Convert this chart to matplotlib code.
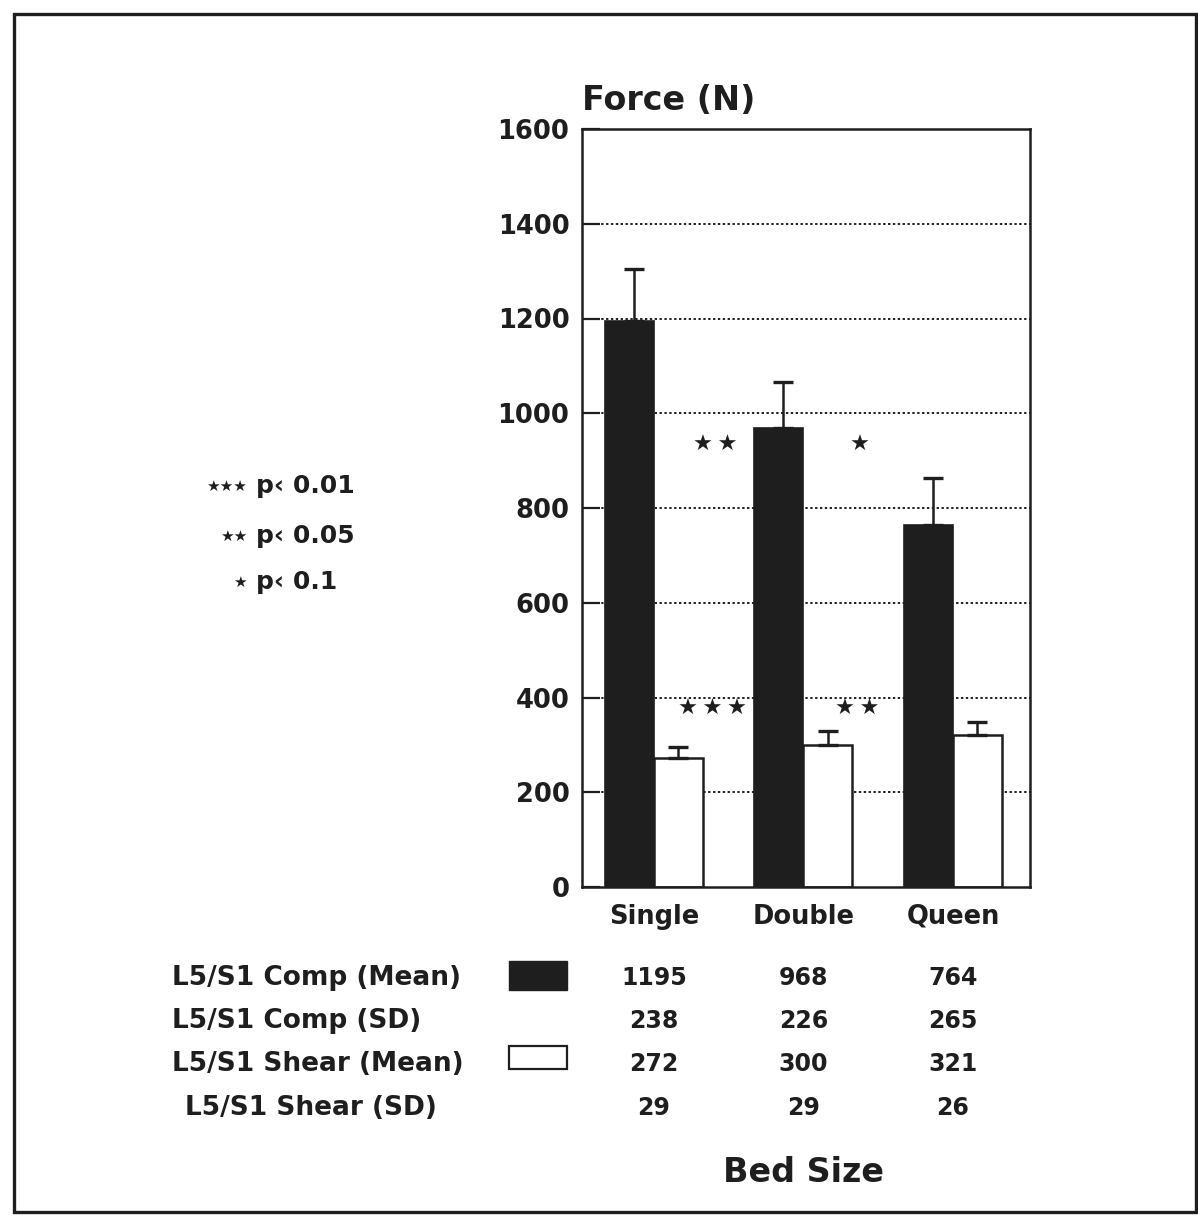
import numpy as np
import matplotlib.pyplot as plt
from matplotlib.patches import Rectangle
from matplotlib.transforms import blended_transform_factory

# bed sizes and L5/S1 forces (N)
beds = ['Single', 'Double', 'Queen']
comp_mean = [1195, 968, 764]
comp_sd = [238, 226, 265]
shear_mean = [272, 300, 321]
shear_sd = [29, 29, 26]
comp_err = [110, 97, 100]   # upper whisker length
shear_err = [23, 29, 27]
row_names = ['L5/S1 Comp (Mean)', 'L5/S1 Comp (SD)',
             'L5/S1 Shear (Mean)', 'L5/S1 Shear (SD)']
yticks = [0, 200, 400, 600, 800, 1000, 1200, 1400, 1600]

INK = '#1e1e1e'
W, H = 1198, 1217
def fx(px): return px / W          # pixel -> figure fraction
def fy(py): return 1 - py / H

plt.rcParams['font.family'] = ['DejaVu Sans']
fig = plt.figure(figsize=(W / 100, H / 100), dpi=100)
ax = fig.add_axes([fx(582), fy(887), fx(1030) - fx(582), fy(129) - fy(887)])

x = np.arange(len(beds))
bw = 0.328
# dotted grid behind the bars
ax.hlines(yticks[1:-1], -1, 3, colors=INK, linestyles=(0, (1.2, 1.3)), lw=1.4, zorder=1)
ax.bar(x - bw / 2, comp_mean, bw, color=INK, edgecolor=INK, lw=1.2, zorder=2)
ax.bar(x + bw / 2, shear_mean, bw, color='white', edgecolor=INK, lw=1.8, zorder=2)
ek = dict(fmt='none', ecolor=INK, elinewidth=1.8, capsize=7, capthick=2.4, zorder=3)
ax.errorbar(x - bw / 2 + 0.03, comp_mean, yerr=[[0] * 3, comp_err], **ek)
ax.errorbar(x + bw / 2, shear_mean, yerr=[[0] * 3, shear_err], **ek)

ax.set_xlim(-0.48, 2.515)
ax.set_ylim(0, 1600)
ax.set_yticks(yticks)
ax.set_yticklabels([str(v) for v in yticks], fontsize=18.5, fontweight='bold', color=INK)
ax.set_xticks(x)
ax.set_xticklabels(beds, fontsize=18.5, fontweight='bold', color=INK)
ax.tick_params(axis='y', direction='in', length=13, width=1.6, pad=9, colors=INK)
ax.tick_params(axis='x', length=0, pad=12, colors=INK)
for s in ax.spines.values():
    s.set_linewidth(1.8)
    s.set_color(INK)
    s.set_zorder(4)

# significance stars
star_kw = dict(ha='center', va='center', fontsize=16, color=INK, family='DejaVu Sans')
ax.text(0.41, 933, '★\u2009★', **star_kw)
ax.text(1.375, 933, '★', **star_kw)
ax.text(0.395, 376, '★\u2009★\u2009★', **star_kw)
ax.text(1.36, 376, '★\u2009★', **star_kw)

fig.text(fx(582), fy(100), 'Force (N)', fontsize=24, fontweight='bold',
         color=INK, ha='left', va='center')

# p-value key
for n, p, yy in [(3, '0.01', 486), (2, '0.05', 536), (1, '0.1', 582)]:
    fig.text(fx(247), fy(yy), '★' * n, fontsize=11, color=INK, ha='right', va='center',
             family='DejaVu Sans')
    fig.text(fx(256), fy(yy), 'p‹ ' + p, fontsize=18, fontweight='bold',
             color=INK, ha='left', va='center')

# data table under the axis
tr = blended_transform_factory(ax.transData, fig.transFigure)
rows = [comp_mean, comp_sd, shear_mean, shear_sd]
row_y = [978, 1021, 1064, 1108]
row_x = [172, 172, 172, 185]
for name, vals, xx, yy in zip(row_names, rows, row_x, row_y):
    fig.text(fx(xx), fy(yy), name, fontsize=19, fontweight='bold',
             color=INK, ha='left', va='center')
    for xi, v in zip(x, vals):
        ax.text(xi, fy(yy), str(v), transform=tr, fontsize=17, fontweight='bold',
                color=INK, ha='center', va='center', clip_on=False)

fig.patches.append(Rectangle((fx(509), fy(990)), fx(58), 29 / H, transform=fig.transFigure,
                             facecolor=INK, edgecolor=INK, lw=1))
fig.patches.append(Rectangle((fx(509), fy(1069)), fx(58), 23 / H, transform=fig.transFigure,
                             facecolor='white', edgecolor=INK, lw=1.6))

ax.text(1, fy(1173), 'Bed Size', transform=tr, fontsize=24, fontweight='bold',
        color=INK, ha='center', va='center', clip_on=False)

# outer frame
fig.patches.append(Rectangle((fx(14), fy(1212)), fx(1182), (1212 - 14) / H,
                             transform=fig.transFigure, fill=False, edgecolor=INK, lw=2.4))

fig.savefig('out.png', dpi=100)
